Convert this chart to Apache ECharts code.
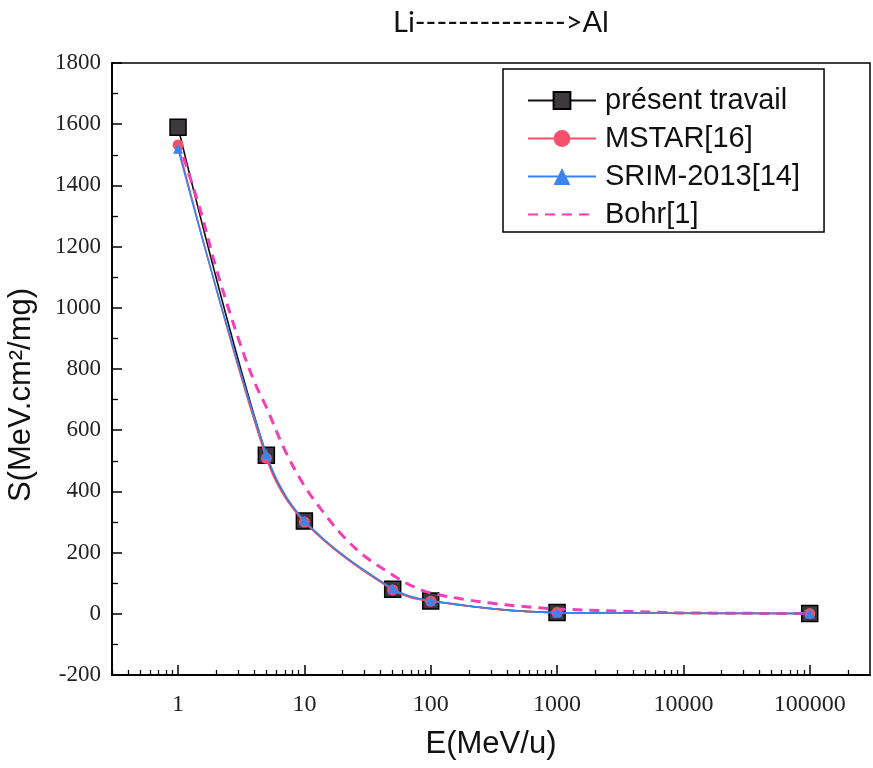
<!DOCTYPE html>
<html>
<head>
<meta charset="utf-8">
<title>Li → Al stopping power</title>
<script src="https://cdn.jsdelivr.net/npm/echarts@6/dist/echarts.min.js"></script>
<style>
  html, body { margin: 0; padding: 0; background: #fff; }
  #chart { width: 873px; height: 768px; }
</style>
</head>
<body>
<div id="chart"></div>
<script>
// Energy points (MeV/u) where the stopping powers are tabulated
const energies = [1, 5, 10, 50, 100, 1000, 100000];
// Stopping power S (MeV.cm²/mg)
const presentWork = [1590, 518, 303, 80, 42, 4, 1];
const mstar = [1532, 508, 300, 78, 41, 4, 1];
const srim = [1520, 522, 305, 82, 43, 4, 1];
// Bohr formula curve, sampled more finely
const bohrEnergies = [1, 1.5, 2, 3, 4, 5, 7, 10, 15, 20, 30, 50, 70, 100, 200, 300, 500, 1000, 3000, 10000, 100000];
const bohr = [1545, 1320, 1130, 900, 760, 675, 535, 418, 318, 256, 188, 127, 92, 68, 45, 35, 25, 16, 9, 3, 1];

// Axis ticks
const xMajorTicks = [1, 10, 100, 1000, 10000, 100000];
const xMantissas = [2, 3, 4, 5, 6, 7, 8, 9];
const xMin = 0.3, xMax = 300000;
const yMin = -200, yMax = 1800, yStep = 200;

const pairs = (xs, ys) => xs.map((x, i) => [x, ys[i]]);

// Minor log ticks (2..9 × 10^k) placed on an exponent-space helper axis
const xMinorExp = [];
for (let d = -1; d <= 5; d++) {
  xMantissas.forEach(m => {
    const v = m * Math.pow(10, d);
    if (v > xMin && v < xMax) xMinorExp.push(Math.log10(v));
  });
}

const serif = '"Liberation Serif", "DejaVu Serif", serif';
const sans = '"Liberation Sans", Arial, sans-serif';

const chart = echarts.init(document.getElementById('chart'), null, { renderer: 'canvas' });

chart.setOption({
  animation: false,
  backgroundColor: '#ffffff',
  title: {
    text: 'Li-------------->Al',
    left: 388,
    top: 3,
    textStyle: { fontFamily: 'Lato, ' + sans, fontSize: 29, fontWeight: 'normal', color: '#111' }
  },
  grid: {
    left: 112, right: 3, top: 63, bottom: 93,
    outerBoundsMode: 'none', containLabel: false,
    show: true, borderColor: '#000', borderWidth: 1.5, backgroundColor: 'transparent'
  },
  legend: {
    orient: 'vertical',
    left: 503, top: 69,
    padding: [17, 24, 3, 24],
    itemWidth: 68, itemHeight: 21, itemGap: 9,
    borderColor: '#000', borderWidth: 1.5,
    textStyle: { fontFamily: sans, fontSize: 29, color: '#111', lineHeight: 27, padding: [0, 0, 0, 4] },
    data: [
      'présent travail',
      'MSTAR[16]',
      'SRIM-2013[14]',
      { name: 'Bohr[1]', itemStyle: { opacity: 0 } }
    ]
  },
  xAxis: [
    {
      type: 'log', logBase: 10, min: xMin, max: xMax,
      name: 'E(MeV/u)', nameLocation: 'middle', nameGap: 54,
      nameTextStyle: { fontFamily: sans, fontSize: 31, color: '#111' },
      axisLine: { onZero: false, lineStyle: { color: '#000', width: 1.8 } },
      axisTick: { show: true, inside: true, length: 10, lineStyle: { color: '#000', width: 1.5 } },
      axisLabel: {
        margin: 18, fontFamily: serif, fontSize: 24, color: '#222',
        showMinLabel: false, showMaxLabel: false,
        formatter: v => {
          const r = Math.round(v);
          return xMajorTicks.indexOf(r) >= 0 ? String(r) : '';
        }
      },
      splitLine: { show: false }
    },
    {
      // helper axis in exponent space carrying the minor log ticks
      type: 'value', position: 'bottom',
      min: Math.log10(xMin), max: Math.log10(xMax),
      axisLine: { show: false, onZero: false },
      axisLabel: { show: false },
      axisTick: { show: true, inside: true, length: 5, customValues: xMinorExp, lineStyle: { color: '#000', width: 1.3 } },
      splitLine: { show: false }
    }
  ],
  yAxis: {
    type: 'value', min: yMin, max: yMax, interval: yStep,
    name: 'S(MeV.cm²/mg)', nameLocation: 'middle', nameGap: 75, nameRotate: 90,
    nameTextStyle: { fontFamily: sans, fontSize: 31, color: '#111', padding: [0, 52, 0, 0] },
    axisLine: { show: true, onZero: false, lineStyle: { color: '#000', width: 1.8 } },
    axisTick: { show: true, inside: true, length: 10, lineStyle: { color: '#000', width: 1.5 } },
    minorTick: { show: true, splitNumber: 2, length: 6, lineStyle: { color: '#000', width: 1.3 } },
    axisLabel: { margin: 11, fontFamily: serif, fontSize: 23, color: '#222', formatter: v => String(v) },
    splitLine: { show: false }
  },
  series: [
    {
      name: 'présent travail', type: 'line', xAxisIndex: 0, smooth: 0.35,
      data: pairs(energies, presentWork),
      symbol: 'rect', symbolSize: 16,
      itemStyle: { color: '#3d393d', borderColor: '#000', borderWidth: 1.5 },
      lineStyle: { color: '#111', width: 1.6 },
      z: 2
    },
    {
      name: 'MSTAR[16]', type: 'line', xAxisIndex: 0, smooth: 0.35,
      data: pairs(energies, mstar),
      symbol: 'circle', symbolSize: 11,
      itemStyle: { color: '#f4506c', borderWidth: 0 },
      lineStyle: { color: '#f4506c', width: 1.6 },
      z: 3
    },
    {
      name: 'SRIM-2013[14]', type: 'line', xAxisIndex: 0, smooth: 0.35,
      data: pairs(energies, srim),
      symbol: 'triangle', symbolSize: 10,
      itemStyle: { color: '#3a84ee', borderWidth: 0 },
      lineStyle: { color: '#3a84ee', width: 1.6 },
      z: 4
    },
    {
      name: 'Bohr[1]', type: 'line', xAxisIndex: 0, smooth: 0.35,
      data: pairs(bohrEnergies, bohr),
      showSymbol: false, symbol: 'none',
      itemStyle: { color: '#f23fb8' },
      lineStyle: { color: '#f23fb8', width: 3, type: [10, 7] },
      z: 3
    }
  ]
});
</script>
</body>
</html>
